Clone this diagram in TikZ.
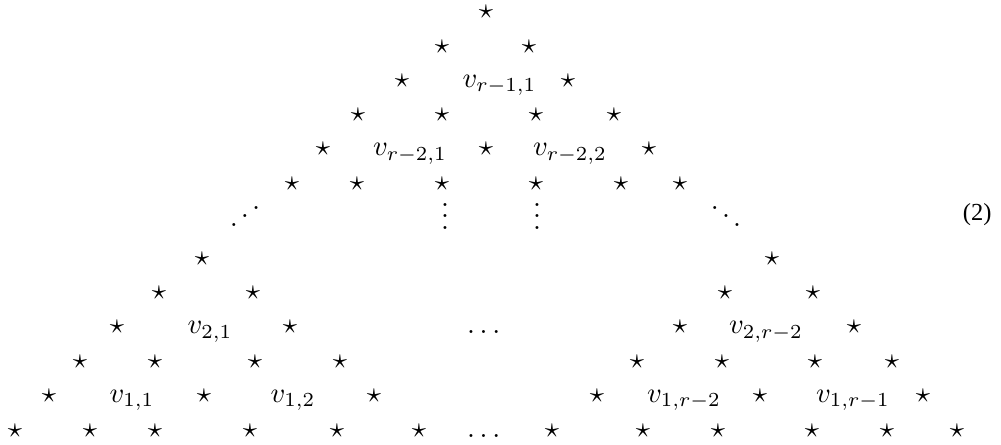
\documentclass[tikz,border=0pt]{standalone}
\usepackage{amsmath}
\usepackage[no-math]{fontspec}
\newfontfamily\eqnumfont{Liberation Serif}

\begin{document}
\begin{tikzpicture}[
    x=0.3509pt, y=-0.3509pt,
    every node/.style={anchor=base, inner sep=0pt},
    entry/.style={font=\normalsize},
    dotsbox/.style={entry, text height=8pt, text depth=0pt},
    eqnum/.style={anchor=base east, font=\eqnumfont\fontsize{8.6}{10}\selectfont}
]
\useasboundingbox (0,0) rectangle (1001,444);
% top half of the triangle
\foreach \x [count=\i] in {486} \node[entry] (s0-\i) at (\x,18.7) {$\star$};
\foreach \x [count=\i] in {442,529} \node[entry] (s1-\i) at (\x,53) {$\star$};
\foreach \x [count=\i] in {402,568} \node[entry] (s2-\i) at (\x,87.3) {$\star$};
\node[entry] (vrm11) at (499.5,87.3) {$v_{r-1,1}$};
\foreach \x [count=\i] in {358,442,536,614} \node[entry] (s3-\i) at (\x,121.6) {$\star$};
\foreach \x [count=\i] in {323,486,649} \node[entry] (s4-\i) at (\x,155.9) {$\star$};
\node[entry] (vrm21) at (410,155.9) {$v_{r-2,1}$};
\node[entry] (vrm22) at (570,155.9) {$v_{r-2,2}$};
\foreach \x [count=\i] in {292,357,442,536,621,680} \node[entry] (s5-\i) at (\x,190.2) {$\star$};
% dots
\node[dotsbox] (udots) at (245,229) {\reflectbox{$\ddots$}};
\node[dotsbox] (vdl) at (445,229) {$\vdots$};
\node[dotsbox] (vdr) at (537,229) {$\vdots$};
\node[dotsbox] (ddots) at (726,229) {$\ddots$};
% bottom half of the triangle
\foreach \x [count=\i] in {202,772} \node[entry] (s7-\i) at (\x,265) {$\star$};
\foreach \x [count=\i] in {159,253,725,813} \node[entry] (s8-\i) at (\x,299.4) {$\star$};
\foreach \x [count=\i] in {117,290,680,854} \node[entry] (s9-\i) at (\x,333.8) {$\star$};
\node[entry] (v21) at (210,333.8) {$v_{2,1}$};
\node[entry] (hd9) at (486,333.8) {$\dots$};
\node[entry] (v2rm2) at (766,333.8) {$v_{2,r-2}$};
\foreach \x [count=\i] in {80,155,255,340,637,722,815,892} \node[entry] (s10-\i) at (\x,368.2) {$\star$};
\foreach \x [count=\i] in {49,204,374,597,760,923} \node[entry] (s11-\i) at (\x,402.6) {$\star$};
\node[entry] (v11) at (132,402.6) {$v_{1,1}$};
\node[entry] (v12) at (293,402.6) {$v_{1,2}$};
\node[entry] (v1rm2) at (684,402.6) {$v_{1,r-2}$};
\node[entry] (v1rm1) at (853,402.6) {$v_{1,r-1}$};
\foreach \x [count=\i] in {15,90,155,250,337,419,552,643,718,812,887,957} \node[entry] (s12-\i) at (\x,437) {$\star$};
\node[entry] (hd12) at (486,437) {$\dots$};
% equation number
\node[eqnum] (eqno) at (992,220) {(2)};
\end{tikzpicture}
\end{document}
